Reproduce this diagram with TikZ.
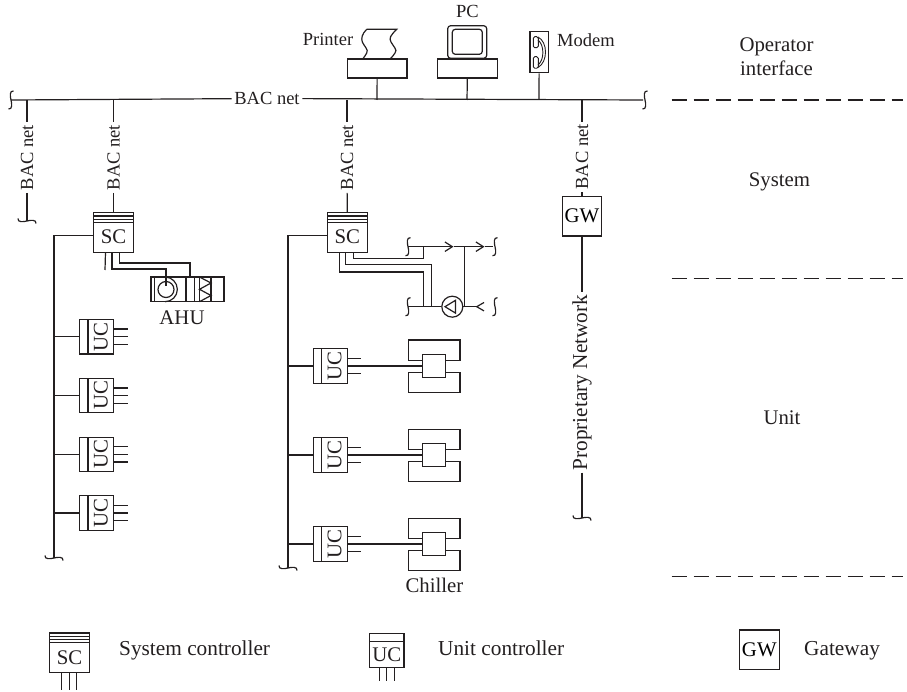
\documentclass[tikz,border=0pt]{standalone}
\usepackage{fontspec}
\setmainfont{Liberation Serif}
\usetikzlibrary{arrows.meta}

\definecolor{ink}{HTML}{231F20}
\tikzset{
	wire/.style={ink, line width=1.2pt},
	box/.style={draw=ink, line width=1.2pt, inner sep=0pt, transform shape},
	lbl/.style={anchor=base, inner sep=0pt, text=ink},
	keylbl/.style={lbl, anchor=base west, font=\fontsize{21.3}{24}\selectfont},
	netlbl/.style={font=\fontsize{18.5}{22}\selectfont, text=ink, inner sep=2.5pt},
	level/.style={wire, dash pattern=on 15pt off 7pt},
	brk/.pic={\draw[wire] (2.5,-9) .. controls (-1.5,-9.5) and (-1,-4) .. (0,0) .. controls (1,4) and (1.5,9.5) .. (-2.5,9);},
	sysctrl/.pic={
		\node[box, minimum width=40pt, minimum height=39.6pt] (-box) at (0,0) {};
		\foreach \s in {3.3,6.6,9.6} \draw[wire] (-20,-19.8+\s) -- (20,-19.8+\s);
		\node[text=ink, inner sep=0pt] (-txt) at (0,4.5) {SC};
		\coordinate (-w) at (-20,3.2);
		\coordinate (-p1) at (-8,19.8);
		\coordinate (-p2) at (-1.6,19.8);
		\coordinate (-p3) at (5.8,19.8);
	},
	unitctrl/.pic={
		\node[box, minimum width=34.4pt, minimum height=34pt] (-box) at (0,0) {};
		\draw[wire] (-17.2,-8.6) -- (17.2,-8.6);
		\node[box, draw=none, text=ink] (-txt) at (0,4.3) {UC};
		\coordinate (-in) at (0,-17);
		\foreach \n/\x in {1/-7.6,2/0,3/7.6} {
			\coordinate (-p\n) at (\x,31);
			\draw[wire] (\x,17) -- (-p\n);
		}
	},
	chillerunit/.pic={
		\node[box, minimum width=23.4pt, minimum height=23pt] (-core) at (0,0) {};
		\draw[wire] (-11.7,-5.9) -- (-25.7,-5.9) -- (-25.7,-25.9) -- (26,-25.9) -- (26,-5.9) -- (11.7,-5.9);
		\draw[wire] (-11.7,6.1) -- (-25.7,6.1) -- (-25.7,26.1) -- (26,26.1) -- (26,6.1) -- (11.7,6.1);
	},
}

\begin{document}
\begin{tikzpicture}[x=1pt, y=-1pt, every node/.style={font=\fontsize{20.8}{24}\selectfont}, >={Straight Barb[length=7.5pt,width=9.5pt]}]
	\useasboundingbox (0,0) rectangle (907,692);

	% BAC net bus
	\coordinate (busL) at (11,100);
	\coordinate (busR) at (643,100);
	\pic at (11,100) {brk};
	\pic at (645,100) {brk};
	\node[netlbl, anchor=base] (busnet) at (267,104.5) {BAC net};
	\draw[wire] (busL) -- (busnet);
	\draw[wire] (busnet) -- (busR);

	% operator devices
	\node[box, minimum width=59.5pt, minimum height=19pt] (printer) at (377.2,68.5) {};
	\node[box, minimum width=59.5pt, minimum height=19pt] (pcbase) at (467.5,68.5) {};
	\draw[wire] (366.7,29.3) -- (396.7,29.3) .. controls (390,36) and (389,38) .. (391,42) .. controls (393,46) and (398,50) .. (395,53) .. controls (394,55) and (392,57) .. (390,59);
	\draw[wire] (366.7,29.3) .. controls (362,34) and (361,38) .. (362.3,42) .. controls (364,46) and (369,50) .. (366.7,53) .. controls (366,55) and (364,57) .. (362.7,59);
	\node[box, rounded corners=3pt, minimum width=39pt, minimum height=32.6pt] (monitor) at (467.2,42) {};
	\node[box, rounded corners=3pt, minimum width=30pt, minimum height=25pt] (screen) at (467.3,41.8) {};
	\node[box, minimum width=18.3pt, minimum height=41.4pt] (modem) at (539.2,52) {};
	\node[box, rounded corners=1.5pt, line width=0.9pt, minimum width=5pt, minimum height=11pt] (ear) at (535.8,42.2) {};
	\node[box, rounded corners=1.5pt, line width=0.9pt, minimum width=5pt, minimum height=11.6pt] (mouth) at (535.8,62.5) {};
	\draw[wire, line width=0.9pt] (538,37) .. controls (548,42) and (548,62) .. (538,67.5);
	\draw[wire, line width=0.9pt] (538,40) .. controls (544.5,45) and (544.5,60) .. (538,65);
	\foreach \dev/\x in {printer/377, pcbase/467, modem/539} \draw[wire] (\dev) -- (\x,100);
	\node[netlbl, lbl] (printerlbl) at (328,45.7) {Printer};
	\node[netlbl, lbl] (pclbl) at (467.5,17.3) {PC};
	\node[netlbl, lbl, anchor=base west] (modemlbl) at (557,47) {Modem};

	% left branch
	\node[netlbl, rotate=90] (net1) at (27,157.5) {BAC net};
	\coordinate (end1) at (27,221);
	\draw[wire] (27,100) -- (net1);
	\draw[wire] (net1) -- (end1);
	\pic[rotate=-90] at (end1) {brk};
	\node[netlbl, rotate=90] (net2) at (113.5,157.5) {BAC net};
	\pic (sc1) at (113.5,232.5) {sysctrl};
	\draw[wire] (113.5,100) -- (net2);
	\draw[wire] (net2) -- (sc1-box);
	\coordinate (spine1) at (54,558);
	\draw[wire] (sc1-w) -| (spine1);
	\pic[rotate=-90] at (spine1) {brk};

	\draw[wire] (sc1-p1) -- (105,270);
	\coordinate (fanin) at (166,286);
	\coordinate (damperin) at (190,278);
	\draw[wire] (sc1-p2) |- (166,269) -- (fanin);
	\draw[wire] (sc1-p3) |- (190,263) -- (damperin);

	% air handler
	\node[box, minimum width=73pt, minimum height=24.7pt] (ahu) at (187.5,289.3) {};
	\draw[wire] (154.5,277) -- (154.5,301.7);
	\draw[wire] (165,277) arc[start angle=-90, end angle=90, radius=12.35];
	\draw[wire] (166,289.5) circle[radius=8];
	\foreach \x in {186,194.3,199.5,211} \draw[wire] (\x,277) -- (\x,301.7);
	\draw[wire] (199.5,277) -- (211,283) -- (199.5,289.3) -- (211,295.5) -- (199.5,301.7);
	\node[lbl] (ahulbl) at (182,325) {AHU};
	\foreach \i/\y in {1/336.7, 2/395.5, 3/454.3, 4/513} {
		\pic[rotate=90] (lu\i) at (96.5,\y) {unitctrl};
		\draw[wire] (54,\y) -- (lu\i-in);
	}

	% chiller branch
	\node[netlbl, rotate=90] (net3) at (347,157.5) {BAC net};
	\pic (sc2) at (347.3,232.5) {sysctrl};
	\draw[wire] (347,100) -- (net3);
	\draw[wire] (net3) -- (sc2-box);
	\coordinate (spine2) at (288,568);
	\draw[wire] (sc2-w) -| (spine2);
	\pic[rotate=-90] at (spine2) {brk};

	% piping
	\coordinate (sup0) at (408,246.7);
	\coordinate (sup1) at (453.5,246.7);
	\coordinate (sup2) at (484.5,246.7);
	\coordinate (sup3) at (493,246.7);
	\coordinate (ret0) at (408,306.7);
	\coordinate (ret1) at (476.7,306.7);
	\draw[wire, ->] (sup0) -- (sup1);
	\draw[wire, ->] (sup1) -- (sup2);
	\draw[wire] (sup2) -- (sup3);
	\node[box, circle, minimum size=21pt] (pump) at (452.3,306.7) {};
	\draw[wire] (445,306.7) -- (455.5,300.3) -- (455.5,313.1) -- cycle;
	\draw[wire] (ret0) -- (pump);
	\draw[wire] (pump) -- (ret1);
	\draw[wire] (484,302.5) -- (ret1) -- (484,310.9);
	\draw[wire] (464.7,246.7) -- (464.7,306.7);
	\foreach \p in {sup0, ret0} \pic at (\p) {brk};
	\pic at (495,246.7) {brk};
	\pic at (495,306.7) {brk};
	\draw[wire] (sc2-p3) |- (423.3,258.3) -- (423.3,246.7);
	\draw[wire] (sc2-p2) |- (431.7,264.3) -- (431.7,306.7);
	\draw[wire] (sc2-p1) |- (423.3,272) -- (423.3,306.7);

	\foreach \i/\y in {1/366, 2/455, 3/544} {
		\pic[rotate=90] (cu\i) at (330.2,\y) {unitctrl};
		\draw[wire] (288,\y) -- (cu\i-in);
		\pic (ch\i) at (434,\y) {chillerunit};
		\draw[wire] (cu\i-p2) -- (ch\i-core);
	}
	\node[lbl] (chillerlbl) at (434.5,592.7) {Chiller};

	% gateway branch
	\node[netlbl, rotate=90] (net4) at (582,157) {BAC net};
	\node[box, minimum width=39.4pt, minimum height=39.7pt] (gw) at (582,216.2) {GW};
	\node[rotate=90, inner sep=2pt, text=ink, font=\fontsize{21.3}{24}\selectfont] (pnet) at (582,382.5) {Proprietary Network};
	\coordinate (end4) at (582,518);
	\draw[wire] (582,100) -- (net4);
	\draw[wire] (net4) -- (gw);
	\draw[wire] (gw) -- (pnet);
	\draw[wire] (pnet) -- (end4);
	\pic[rotate=-90] at (end4) {brk};

	% levels
	\foreach \y in {100, 278.3, 576.7} \draw[level] (671.7,\y) -- (903,\y);
	\node[lbl] (oplbl) at (776.5,52) {Operator};
	\node[lbl] (ifacelbl) at (776.5,76) {interface};
	\node[lbl] (syslbl) at (779.5,187) {System};
	\node[lbl] (unitlbl) at (782,424) {Unit};

	% legend
	\pic (lsc) at (69.5,652.8) {sysctrl};
	\foreach \x in {61.7,69.3,76.7} \draw[wire] (\x,0 |- lsc-box.south) -- (\x,690);
	\node[keylbl] (sclbl) at (119,655) {System controller};
	\pic (luc) at (386.7,650.3) {unitctrl};
	\node[keylbl] (uclbl) at (438,655) {Unit controller};
	\node[box, minimum width=40pt, minimum height=39.3pt] (lgw) at (759.3,649.7) {GW};
	\node[keylbl] (gwlbl) at (804,655) {Gateway};
\end{tikzpicture}
\end{document}
